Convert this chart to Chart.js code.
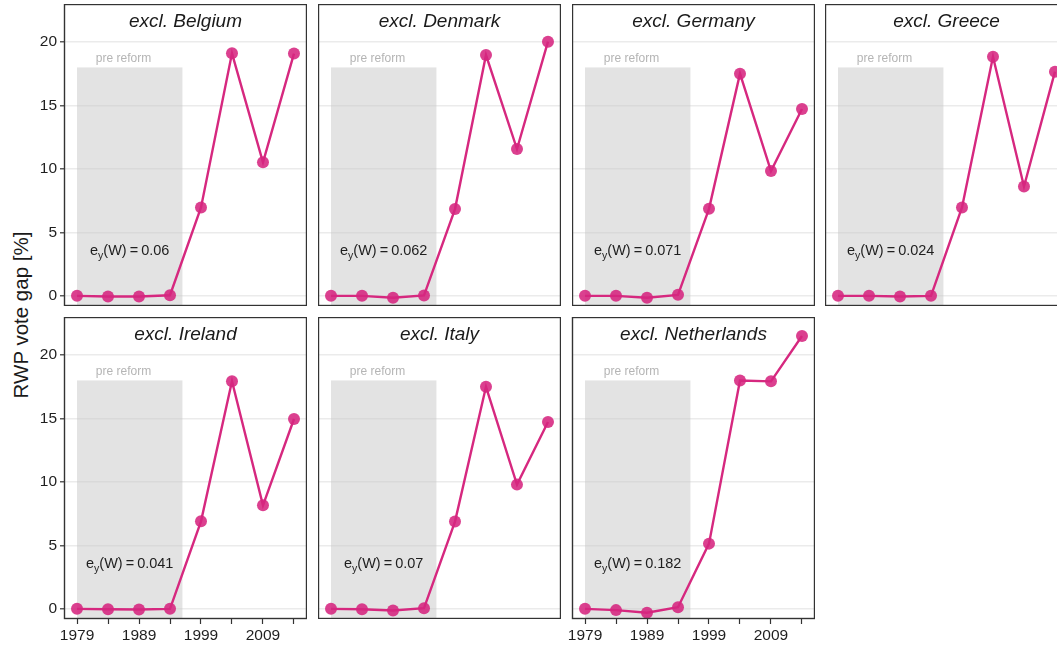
<!DOCTYPE html>
<html>
<head>
<meta charset="utf-8">
<title>RWP vote gap by excluded country</title>
<script src="https://cdn.jsdelivr.net/npm/chart.js@4.4.1/dist/chart.umd.min.js"></script>
<style>
  html, body { margin: 0; padding: 0; background: #fff; overflow: hidden; }
  #wrap { position: relative; width: 1057px; height: 647px; overflow: hidden; background: #fff; }
  #wrap canvas { position: absolute; }
  #ytitle {
    position: absolute; left: 21px; top: 315px;
    font: 20.5px "Liberation Sans", Arial, sans-serif; line-height: 20px;
    color: #1a1a1a; white-space: nowrap;
    transform: translate(-50%, -50%) rotate(-90deg);
  }
</style>
</head>
<body>
<div id="wrap">
  <div id="ytitle">RWP vote gap [%]</div>
</div>
<script>
// Election years and axis ticks
const years = [1979, 1984, 1989, 1994, 1999, 2004, 2009, 2014];
const yearLabels = [1979, 1989, 1999, 2009];
const gapTicks = [0, 5, 10, 15, 20];

// RWP vote gap (%) with one country left out at a time
const exclBelgium     = [0.00, -0.05, -0.05, 0.05, 6.97, 19.11, 10.52, 19.09];
const exclDenmark     = [0.00, 0.00, -0.15, 0.03, 6.84, 18.98, 11.57, 20.03];
const exclGermany     = [0.00, 0.00, -0.15, 0.08, 6.86, 17.51, 9.83, 14.72];
const exclGreece      = [0.00, 0.00, -0.05, 0.00, 6.97, 18.85, 8.62, 17.67];
const exclIreland     = [0.00, -0.03, -0.05, 0.00, 6.90, 17.93, 8.16, 14.96];
const exclItaly       = [0.00, -0.03, -0.13, 0.05, 6.88, 17.50, 9.79, 14.72];
const exclNetherlands = [0.00, -0.10, -0.31, 0.13, 5.14, 18.00, 17.93, 21.50];

const panelTitles = ['excl. Belgium', 'excl. Denmark', 'excl. Germany', 'excl. Greece',
                     'excl. Ireland', 'excl. Italy', 'excl. Netherlands'];
const eyWeights = ['0.06', '0.062', '0.071', '0.024', '0.041', '0.07', '0.182'];

// Pre-reform period shading
const reformStart = 1979, reformEnd = 1996, reformTop = 18;

// ---- layout ----
const FONT = '"Liberation Sans", Arial, sans-serif';
const COL_X = [64, 318, 572, 825];
const ROW_Y = [4, 317];
const PW = 243, PH = 302;
const X_MIN = 1976.9, X_MAX = 2016.1, Y_MIN = -0.8, Y_MAX = 23;
const LINE = '#d6287f';
const POINT = 'rgba(214,37,127,0.88)';

const panels = [
  { series: exclBelgium,     col: 0, row: 0, yAxis: true,  xAxis: false },
  { series: exclDenmark,     col: 1, row: 0, yAxis: false, xAxis: false },
  { series: exclGermany,     col: 2, row: 0, yAxis: false, xAxis: false },
  { series: exclGreece,      col: 3, row: 0, yAxis: false, xAxis: false },
  { series: exclIreland,     col: 0, row: 1, yAxis: true,  xAxis: true  },
  { series: exclItaly,       col: 1, row: 1, yAxis: false, xAxis: false },
  { series: exclNetherlands, col: 2, row: 1, yAxis: false, xAxis: true  }
];

function drawEy(ctx, value, cx, by) {
  const big = '14.5px ' + FONT, small = '10.5px ' + FONT;
  const parts = [
    { t: 'e', f: big, dy: 0, gap: 0 },
    { t: 'y', f: small, dy: 3.5, gap: 0 },
    { t: '(W)', f: big, dy: 0, gap: 3 },
    { t: '=', f: big, dy: 0, gap: 3 },
    { t: value, f: big, dy: 0, gap: 0 }
  ];
  let total = 0;
  parts.forEach(p => { ctx.font = p.f; p.w = ctx.measureText(p.t).width; total += p.w + p.gap; });
  let x = cx - total / 2;
  ctx.fillStyle = '#1f1f1f';
  ctx.textAlign = 'left';
  ctx.textBaseline = 'alphabetic';
  parts.forEach(p => { ctx.font = p.f; ctx.fillText(p.t, x, by + p.dy); x += p.w + p.gap; });
}

const panelDecor = {
  id: 'panelDecor',
  beforeDatasetsDraw(chart, args, opts) {
    const { ctx, chartArea: a, scales: { x, y } } = chart;
    ctx.save();
    ctx.beginPath();
    ctx.rect(a.left, a.top, a.right - a.left, a.bottom - a.top);
    ctx.clip();
    const x0 = x.getPixelForValue(reformStart), x1 = x.getPixelForValue(reformEnd);
    const yTop = y.getPixelForValue(reformTop);
    ctx.fillStyle = 'rgba(200,200,200,0.5)';
    ctx.fillRect(x0, yTop, x1 - x0, a.bottom - yTop);

    ctx.font = '12px ' + FONT;
    ctx.fillStyle = '#b5b5b5';
    ctx.textAlign = 'center';
    ctx.textBaseline = 'alphabetic';
    ctx.fillText('pre reform', x.getPixelForValue(1986.5), y.getPixelForValue(18.45));

    drawEy(ctx, opts.ey, x.getPixelForValue((reformStart + reformEnd) / 2), y.getPixelForValue(3.2));
    ctx.restore();
  },
  afterDatasetsDraw(chart, args, opts) {
    const { ctx, chartArea: a } = chart;
    ctx.save();
    ctx.font = 'italic 19px ' + FONT;
    ctx.fillStyle = '#1a1a1a';
    ctx.textAlign = 'center';
    ctx.textBaseline = 'alphabetic';
    ctx.fillText(opts.title, (a.left + a.right) / 2, a.top + 23);
    ctx.strokeStyle = '#333333';
    ctx.lineWidth = 1.4;
    ctx.strokeRect(a.left + 0.5, a.top + 0.5, a.right - a.left - 1, a.bottom - a.top - 1);
    ctx.restore();
  }
};

function zeroPadding(s) { s.paddingTop = 0; s.paddingBottom = 0; s.paddingLeft = 0; s.paddingRight = 0; }

const wrap = document.getElementById('wrap');
panels.forEach((p, i) => {
  const padL = p.yAxis ? COL_X[p.col] : (p.xAxis ? 14 : 0);
  const padB = p.xAxis ? 28 : 0;
  const w = PW + padL, h = PH + padB;
  const cv = document.createElement('canvas');
  cv.width = w; cv.height = h;
  cv.style.left = (COL_X[p.col] - padL) + 'px';
  cv.style.top = ROW_Y[p.row] + 'px';
  cv.style.width = w + 'px';
  cv.style.height = h + 'px';
  wrap.appendChild(cv);

  new Chart(cv, {
    type: 'line',
    data: {
      datasets: [{
        data: years.map((yr, k) => ({ x: yr, y: p.series[k] })),
        borderColor: LINE,
        borderWidth: 2.4,
        pointRadius: 6,
        pointBackgroundColor: POINT,
        pointBorderWidth: 0,
        tension: 0
      }]
    },
    options: {
      responsive: false,
      animation: false,
      devicePixelRatio: 1,
      events: [],
      layout: { padding: 0, autoPadding: false },
      plugins: {
        legend: { display: false },
        tooltip: { enabled: false },
        panelDecor: { title: panelTitles[i], ey: eyWeights[i] }
      },
      scales: {
        x: {
          type: 'linear', min: X_MIN, max: X_MAX,
          display: p.xAxis,
          afterBuildTicks: s => { s.ticks = years.map(v => ({ value: v })); },
          afterFit: s => { s.height = padB; zeroPadding(s); },
          grid: { drawOnChartArea: false, drawTicks: true, tickLength: 5, tickColor: '#333333', tickWidth: 1.2 },
          border: { display: false },
          ticks: {
            autoSkip: false, maxRotation: 0, padding: 2,
            color: '#1f1f1f', font: { family: FONT, size: 15.5 },
            callback: v => (yearLabels.includes(v) ? String(v) : '')
          }
        },
        y: {
          type: 'linear', min: Y_MIN, max: Y_MAX,
          afterBuildTicks: s => { s.ticks = gapTicks.map(v => ({ value: v })); },
          afterFit: s => { s.width = padL; zeroPadding(s); },
          grid: { color: '#ebebeb', lineWidth: 1.6, drawTicks: p.yAxis, tickLength: 4, tickColor: '#333333', tickWidth: 1.2 },
          border: { display: false },
          ticks: {
            display: p.yAxis, padding: 3,
            color: '#1f1f1f', font: { family: FONT, size: 15.5 }
          }
        }
      }
    },
    plugins: [panelDecor]
  });
});
</script>
</body>
</html>
